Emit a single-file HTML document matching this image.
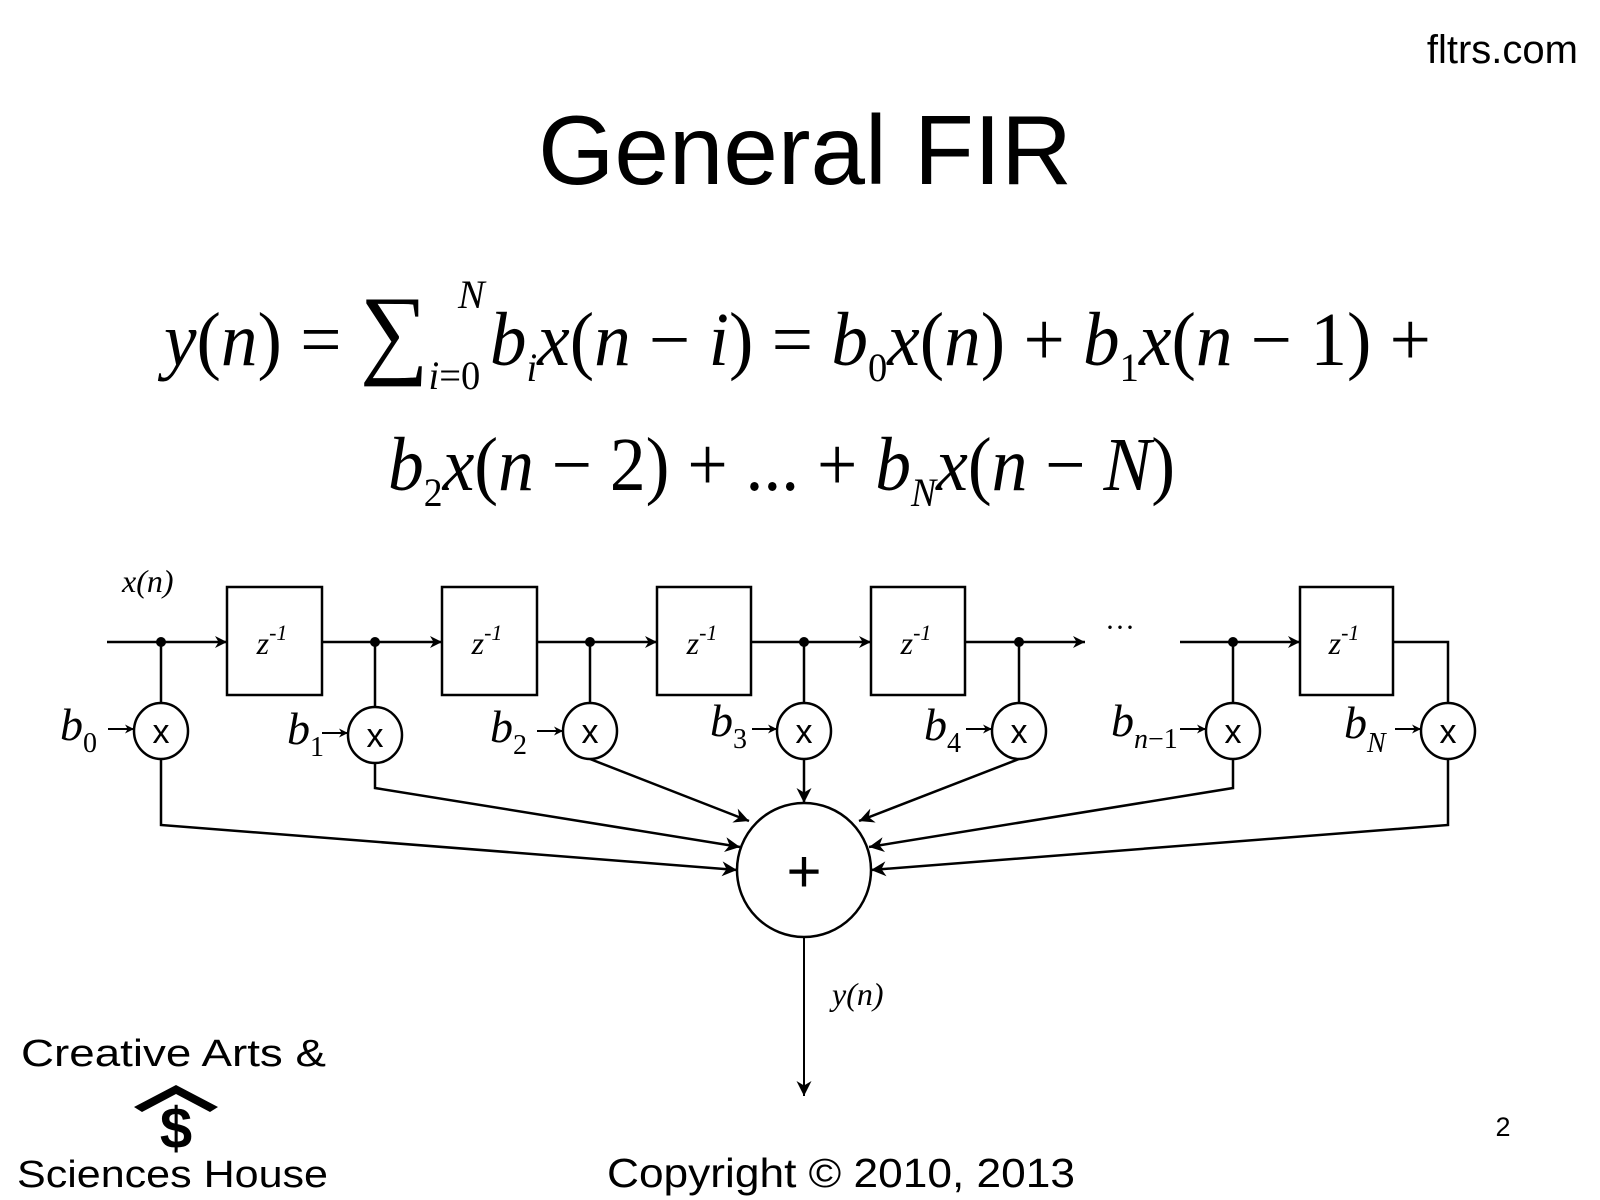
<!DOCTYPE html>
<html><head><meta charset="utf-8"><style>
html,body{margin:0;padding:0;background:#fff;}
svg{display:block;}
.s{font-family:"Liberation Sans",sans-serif;}
.m{font-family:"Liberation Serif",serif;}
</style></head><body>
<svg width="1600" height="1200" viewBox="0 0 1600 1200" xmlns="http://www.w3.org/2000/svg">
<defs>
<marker id="a" viewBox="0 0 10 10" refX="10" refY="5" markerWidth="12" markerHeight="12" markerUnits="userSpaceOnUse" orient="auto"><path d="M0,0 L10,5 L0,10 L3,5 z" fill="#000"/></marker>
<marker id="c" viewBox="0 0 10 10" refX="10" refY="5" markerWidth="9" markerHeight="9" markerUnits="userSpaceOnUse" orient="auto"><path d="M0,0 L10,5 L0,10 L3,5 z" fill="#000"/></marker>
<marker id="b" viewBox="0 0 10 10" refX="10" refY="5" markerWidth="15" markerHeight="15" markerUnits="userSpaceOnUse" orient="auto"><path d="M0,0 L10,5 L0,10 L3,5 z" fill="#000"/></marker>
</defs>
<text class="s" x="1578" y="63" font-size="40" text-anchor="end">fltrs.com</text>
<text class="s" x="805" y="184" font-size="98" text-anchor="middle">General FIR</text>

<!-- equation -->
<text class="m" x="164" y="365" font-size="76" textLength="1267" lengthAdjust="spacingAndGlyphs"><tspan font-style="italic">y</tspan>(<tspan font-style="italic">n</tspan>) = <tspan font-size="100">∑</tspan><tspan font-size="40" dy="24" font-style="italic">i</tspan><tspan font-size="40">=0 </tspan><tspan dy="-24" font-style="italic">b</tspan><tspan font-size="40" dy="16" font-style="italic">i</tspan><tspan dy="-16" font-style="italic">x</tspan>(<tspan font-style="italic">n</tspan> − <tspan font-style="italic">i</tspan>) = <tspan font-style="italic">b</tspan><tspan font-size="40" dy="16">0</tspan><tspan dy="-16" font-style="italic">x</tspan>(<tspan font-style="italic">n</tspan>) + <tspan font-style="italic">b</tspan><tspan font-size="40" dy="16">1</tspan><tspan dy="-16" font-style="italic">x</tspan>(<tspan font-style="italic">n</tspan> − 1) +</text>
<text class="m" x="458" y="308" font-size="40" font-style="italic">N</text>
<text class="m" x="388" y="490" font-size="76" textLength="787" lengthAdjust="spacingAndGlyphs"><tspan font-style="italic">b</tspan><tspan font-size="40" dy="16">2</tspan><tspan dy="-16" font-style="italic">x</tspan>(<tspan font-style="italic">n</tspan> − 2) + ... + <tspan font-style="italic">b</tspan><tspan font-size="40" dy="16" font-style="italic">N</tspan><tspan dy="-16" font-style="italic">x</tspan>(<tspan font-style="italic">n</tspan> − <tspan font-style="italic">N</tspan>)</text>

<g stroke="#000" stroke-width="2.5" fill="none">
<line x1="107" y1="642" x2="227" y2="642" marker-end="url(#a)"/>
<line x1="322" y1="642" x2="442" y2="642" marker-end="url(#a)"/>
<line x1="537" y1="642" x2="657" y2="642" marker-end="url(#a)"/>
<line x1="751" y1="642" x2="871" y2="642" marker-end="url(#a)"/>
<line x1="965" y1="642" x2="1085" y2="642" marker-end="url(#a)"/>
<line x1="1180" y1="642" x2="1300" y2="642" marker-end="url(#a)"/>
<polyline points="1393,642 1448,642 1448,703"/>
<rect x="227" y="587" width="95" height="108"/>
<rect x="442" y="587" width="95" height="108"/>
<rect x="657" y="587" width="94" height="108"/>
<rect x="871" y="587" width="94" height="108"/>
<rect x="1300" y="587" width="93" height="108"/>
<line x1="161" y1="642" x2="161" y2="703"/>
<line x1="375" y1="642" x2="375" y2="707"/>
<line x1="590" y1="642" x2="590" y2="703"/>
<line x1="804" y1="642" x2="804" y2="703"/>
<line x1="1019" y1="642" x2="1019" y2="703"/>
<line x1="1233" y1="642" x2="1233" y2="703"/>
<ellipse cx="161" cy="731" rx="27" ry="28"/>
<ellipse cx="375" cy="735" rx="27" ry="28"/>
<ellipse cx="590" cy="731" rx="27" ry="28"/>
<ellipse cx="804" cy="731" rx="27" ry="28"/>
<ellipse cx="1019" cy="731" rx="27" ry="28"/>
<ellipse cx="1233" cy="731" rx="27" ry="28"/>
<ellipse cx="1448" cy="731" rx="27" ry="28"/>
<circle cx="804" cy="870" r="67"/>
<polyline points="161,759 161,825 737,870" marker-end="url(#b)"/>
<polyline points="375,763 375,788 740,847" marker-end="url(#b)"/>
<polyline points="590,759 749,821" marker-end="url(#b)"/>
<line x1="804" y1="759" x2="804" y2="803" marker-end="url(#b)"/>
<polyline points="1019,759 859,821" marker-end="url(#b)"/>
<polyline points="1233,759 1233,788 869,847" marker-end="url(#b)"/>
<polyline points="1448,759 1448,825 871,870" marker-end="url(#b)"/>
<line x1="804" y1="937" x2="804" y2="1096" stroke-width="2" marker-end="url(#b)"/>
<line x1="108" y1="729" x2="134" y2="729" stroke-width="2" marker-end="url(#c)"/>
<line x1="322" y1="733" x2="348" y2="733" stroke-width="2" marker-end="url(#c)"/>
<line x1="537" y1="731" x2="563" y2="731" stroke-width="2" marker-end="url(#c)"/>
<line x1="752" y1="729" x2="777" y2="729" stroke-width="2" marker-end="url(#c)"/>
<line x1="966" y1="729" x2="992" y2="729" stroke-width="2" marker-end="url(#c)"/>
<line x1="1180" y1="729" x2="1206" y2="729" stroke-width="2" marker-end="url(#c)"/>
<line x1="1395" y1="729" x2="1421" y2="729" stroke-width="2" marker-end="url(#c)"/>
</g>
<g fill="#000">
<circle cx="161" cy="642" r="5"/><circle cx="375" cy="642" r="5"/><circle cx="590" cy="642" r="5"/>
<circle cx="804" cy="642" r="5"/><circle cx="1019" cy="642" r="5"/><circle cx="1233" cy="642" r="5"/>
</g>
<text class="m" x="1120" y="637" font-size="30" text-anchor="middle">···</text>
<g class="m" font-size="32" font-style="italic" text-anchor="middle">
<text x="272" y="654">z<tspan font-size="22" dy="-14">-1</tspan></text>
<text x="487" y="654">z<tspan font-size="22" dy="-14">-1</tspan></text>
<text x="702" y="654">z<tspan font-size="22" dy="-14">-1</tspan></text>
<text x="916" y="654">z<tspan font-size="22" dy="-14">-1</tspan></text>
<text x="1344" y="654">z<tspan font-size="22" dy="-14">-1</tspan></text>
</g>
<g class="s" font-size="34" text-anchor="middle">
<text x="161" y="743">x</text><text x="375" y="747">x</text><text x="590" y="743">x</text>
<text x="804" y="743">x</text><text x="1019" y="743">x</text><text x="1233" y="743">x</text><text x="1448" y="743">x</text>
<text x="804" y="892" font-size="60">+</text>
</g>
<g class="m" font-size="46">
<text x="60" y="740" font-style="italic">b<tspan font-size="28" dy="12" font-style="normal">0</tspan></text>
<text x="287" y="744" font-style="italic">b<tspan font-size="28" dy="12" font-style="normal">1</tspan></text>
<text x="490" y="742" font-style="italic">b<tspan font-size="28" dy="12" font-style="normal">2</tspan></text>
<text x="710" y="736" font-style="italic">b<tspan font-size="28" dy="12" font-style="normal">3</tspan></text>
<text x="924" y="740" font-style="italic">b<tspan font-size="28" dy="12" font-style="normal">4</tspan></text>
<text x="1111" y="736" font-style="italic">b<tspan font-size="28" dy="12">n</tspan><tspan font-size="28" font-style="normal">−1</tspan></text>
<text x="1344" y="738" font-style="italic">b<tspan font-size="28" dy="14">N</tspan></text>
<text x="122" y="592" font-size="32" font-style="italic">x(n)</text>
<text x="832" y="1005" font-size="32" font-style="italic">y(n)</text>
</g>
<text class="s" x="21" y="1066" font-size="38" textLength="305" lengthAdjust="spacingAndGlyphs">Creative Arts &amp;</text>
<text class="s" x="17" y="1187" font-size="38" textLength="311" lengthAdjust="spacingAndGlyphs">Sciences House</text>
<path d="M134,1107 L176,1085 L218,1107 L210,1112 L176,1094 L142,1112 z" fill="#000"/>
<text class="s" x="176" y="1148" font-size="58" font-weight="bold" text-anchor="middle">$</text>
<text class="s" x="607" y="1187" font-size="41" textLength="468" lengthAdjust="spacingAndGlyphs">Copyright © 2010, 2013</text>
<text class="s" x="1503" y="1136" font-size="27" text-anchor="middle">2</text>
</svg>
</body></html>
